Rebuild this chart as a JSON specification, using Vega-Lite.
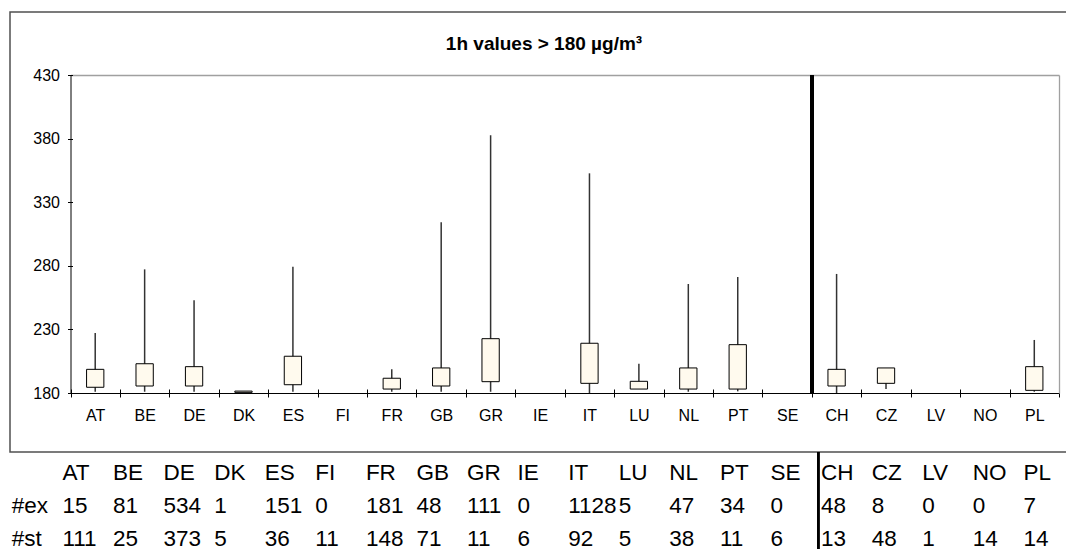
{
  "$schema": "https://vega.github.io/schema/vega-lite/v6.json",
  "autosize": {"type": "pad"},
  "padding": {"left": 9, "top": 11, "right": 0, "bottom": 0},
  "background": "white",
  "config": {
    "font": "Liberation Sans",
    "axis": {"labelFont": "Liberation Sans", "labelFontSize": 16, "labelColor": "#000000", "title": null, "grid": false}
  },
  "datasets": {
    "c": [
      {"country": "AT", "low": 181, "q1": 184.5, "q3": 198.6, "high": 227.2, "ex": 15, "st": 111},
      {"country": "BE", "low": 181, "q1": 185.5, "q3": 203, "high": 277.2, "ex": 81, "st": 25},
      {"country": "DE", "low": 181, "q1": 185.5, "q3": 200.7, "high": 252.9, "ex": 534, "st": 373},
      {"country": "DK", "low": null, "q1": 180.5, "q3": 181.5, "high": null, "ex": 1, "st": 5},
      {"country": "ES", "low": 181, "q1": 186.5, "q3": 208.9, "high": 279.3, "ex": 151, "st": 36},
      {"country": "FI", "low": null, "q1": null, "q3": null, "high": null, "ex": 0, "st": 11},
      {"country": "FR", "low": 181, "q1": 183.1, "q3": 191.6, "high": 198.6, "ex": 181, "st": 148},
      {"country": "GB", "low": 181, "q1": 185.5, "q3": 199.7, "high": 314.2, "ex": 48, "st": 71},
      {"country": "GR", "low": 181, "q1": 188.9, "q3": 222.7, "high": 382.6, "ex": 111, "st": 11},
      {"country": "IE", "low": null, "q1": null, "q3": null, "high": null, "ex": 0, "st": 6},
      {"country": "IT", "low": 180, "q1": 187.6, "q3": 219.1, "high": 352.7, "ex": 1128, "st": 92},
      {"country": "LU", "low": 183.1, "q1": 183.1, "q3": 189.2, "high": 203, "ex": 5, "st": 5},
      {"country": "NL", "low": 181, "q1": 183.1, "q3": 199.7, "high": 265.7, "ex": 47, "st": 38},
      {"country": "PT", "low": 181.3, "q1": 183.1, "q3": 218, "high": 271.2, "ex": 34, "st": 11},
      {"country": "SE", "low": null, "q1": null, "q3": null, "high": null, "ex": 0, "st": 6},
      {"country": "CH", "low": 180, "q1": 185.5, "q3": 198.6, "high": 273.6, "ex": 48, "st": 13},
      {"country": "CZ", "low": 183.1, "q1": 187.6, "q3": 199.7, "high": 199.7, "ex": 8, "st": 48},
      {"country": "LV", "low": null, "q1": null, "q3": null, "high": null, "ex": 0, "st": 1},
      {"country": "NO", "low": null, "q1": null, "q3": null, "high": null, "ex": 0, "st": 14},
      {"country": "PL", "low": 181, "q1": 182.1, "q3": 200.7, "high": 221.7, "ex": 7, "st": 14}
    ]
  },
  "spacing": 0,
  "bounds": "flush",
  "vconcat": [
    {
      "width": 1068,
      "height": 440,
      "view": {"stroke": "#505050", "strokeWidth": 1.5, "fill": "white"},
      "title": {"text": "1h values > 180 µg/m³", "font": "Liberation Sans", "fontSize": 19, "fontWeight": "bold", "color": "#000000", "offset": -57, "baseline": "alphabetic", "anchor": "middle", "frame": "group"},
      "data": {"name": "c"},
      "layer": [
        {
          "mark": {"type": "rule", "color": "#333333", "strokeWidth": 1.5},
          "encoding": {
            "x": {"field": "country", "type": "nominal", "sort": null,
              "scale": {"type": "band", "domain": ["AT","BE","DE","DK","ES","FI","FR","GB","GR","IE","IT","LU","NL","PT","SE","CH","CZ","LV","NO","PL"], "range": [60.5, 1049], "paddingInner": 0, "paddingOuter": 0},
              "axis": {"orient": "bottom", "offset": -59, "domainColor": "#000000", "domainWidth": 1, "tickColor": "#000000", "tickSize": 4, "tickBand": "extent", "labelPadding": 10, "labelAngle": 0, "title": null}},
            "y": {"field": "low", "type": "quantitative",
              "scale": {"domain": [180, 430], "range": [381, 63], "nice": false, "zero": false},
              "axis": {"orient": "left", "offset": -60.5, "values": [180, 230, 280, 330, 380, 430], "domainColor": "#000000", "domainWidth": 1, "tickColor": "#000000", "tickSize": 3, "labelPadding": 8, "title": null}},
            "y2": {"field": "high"}
          }
        },
        {
          "mark": {"type": "bar", "fill": "#fffaee", "stroke": "#000000", "strokeWidth": 1, "width": {"band": 0.35}},
          "encoding": {
            "x": {"field": "country", "type": "nominal", "sort": null,
              "scale": {"type": "band", "domain": ["AT","BE","DE","DK","ES","FI","FR","GB","GR","IE","IT","LU","NL","PT","SE","CH","CZ","LV","NO","PL"], "range": [60.5, 1049], "paddingInner": 0, "paddingOuter": 0},
              "axis": {"orient": "bottom", "offset": -63, "domain": false, "labels": false, "tickColor": "#000000", "tickSize": 4, "tickBand": "extent", "title": null}},
            "y": {"field": "q1", "type": "quantitative",
              "scale": {"domain": [180, 430], "range": [381, 63], "nice": false, "zero": false},
              "axis": {"orient": "left", "offset": -62.5, "values": [180, 230, 280, 330, 380, 430], "domain": false, "labels": false, "tickColor": "#000000", "tickSize": 2, "title": null}},
            "y2": {"field": "q3"}
          }
        },
        {
          "mark": {"type": "rule", "color": "#000000", "strokeWidth": 3},
          "encoding": {
            "x": {"datum": "CH", "type": "nominal", "bandPosition": 0,
              "scale": {"type": "band", "domain": ["AT","BE","DE","DK","ES","FI","FR","GB","GR","IE","IT","LU","NL","PT","SE","CH","CZ","LV","NO","PL"], "range": [60.5, 1049], "paddingInner": 0, "paddingOuter": 0},
              "axis": {"orient": "top", "offset": -63, "domainColor": "#a0a0a0", "domainWidth": 1.3, "ticks": false, "labels": false, "title": null}},
            "y": {"datum": 430, "type": "quantitative",
              "scale": {"domain": [180, 430], "range": [381, 63], "nice": false, "zero": false},
              "axis": {"orient": "right", "offset": -19, "domainColor": "#a0a0a0", "domainWidth": 1.3, "ticks": false, "labels": false, "title": null}},
            "y2": {"datum": 180}
          }
        }
      ],
      "resolve": {"axis": {"x": "independent", "y": "independent"}}
    },
    {
      "width": 1068,
      "height": 98,
      "view": {"stroke": null},
      "data": {"name": "c"},
      "layer": [
        {
          "mark": {"type": "text", "align": "left", "baseline": "alphabetic", "dx": 3, "font": "Liberation Sans", "fontSize": 22.5, "color": "#000000"},
          "encoding": {
            "x": {"field": "country", "type": "nominal", "bandPosition": 0,
              "scale": {"type": "band", "domain": ["lab","AT","BE","DE","DK","ES","FI","FR","GB","GR","IE","IT","LU","NL","PT","SE","CH","CZ","LV","NO","PL"], "range": [-1.18, 1061], "paddingInner": 0, "paddingOuter": 0}, "axis": null},
            "y": {"datum": "head", "type": "nominal", "scale": {"type": "point", "domain": ["head", "ex", "st"], "range": [28, 94], "padding": 0}, "axis": null},
            "text": {"field": "country", "type": "nominal"}
          }
        },
        {
          "mark": {"type": "text", "align": "left", "baseline": "alphabetic", "dx": 3, "font": "Liberation Sans", "fontSize": 22.5, "color": "#000000"},
          "encoding": {
            "x": {"field": "country", "type": "nominal", "bandPosition": 0, "axis": null},
            "y": {"datum": "ex", "type": "nominal", "axis": null},
            "text": {"field": "ex", "type": "nominal"}
          }
        },
        {
          "mark": {"type": "text", "align": "left", "baseline": "alphabetic", "dx": 3, "font": "Liberation Sans", "fontSize": 22.5, "color": "#000000"},
          "encoding": {
            "x": {"field": "country", "type": "nominal", "bandPosition": 0, "axis": null},
            "y": {"datum": "st", "type": "nominal", "axis": null},
            "text": {"field": "st", "type": "nominal"}
          }
        },
        {
          "data": {"values": [{"r": "ex", "t": "#ex"}, {"r": "st", "t": "#st"}]},
          "mark": {"type": "text", "align": "left", "baseline": "alphabetic", "dx": 3, "font": "Liberation Sans", "fontSize": 22.5, "color": "#000000"},
          "encoding": {
            "x": {"datum": "lab", "type": "nominal", "bandPosition": 0, "axis": null},
            "y": {"field": "r", "type": "nominal", "axis": null},
            "text": {"field": "t", "type": "nominal"}
          }
        },
        {
          "mark": {"type": "rule", "color": "#000000", "strokeWidth": 2},
          "encoding": {
            "x": {"datum": "CH", "type": "nominal", "bandPosition": 0, "axis": null}
          }
        }
      ]
    }
  ]
}
